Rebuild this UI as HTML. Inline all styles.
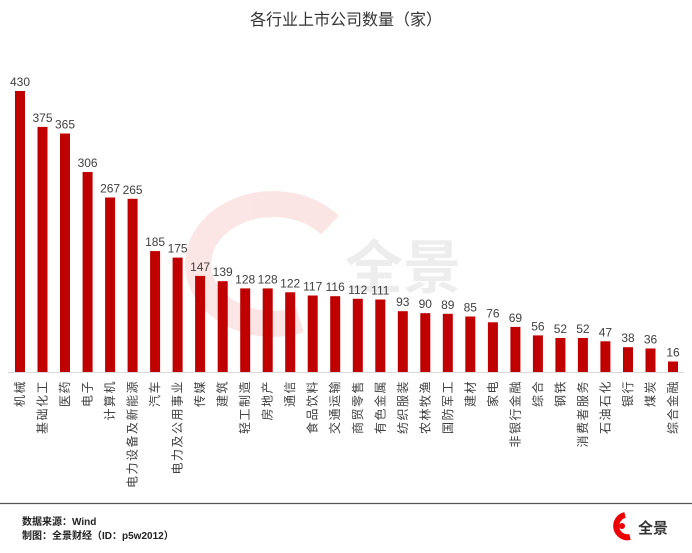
<!DOCTYPE html>
<html><head><meta charset="utf-8"><style>
body{margin:0;background:#fff;}
svg text{font-family:"Liberation Sans","Noto Sans CJK SC",sans-serif;}
.v{font-size:12px;fill:#404040;text-anchor:middle;}
.c text{font-size:12px;fill:#404040;text-anchor:end;letter-spacing:1.5px;}
.b{fill:#c00000;}
</style></head><body>
<svg width="692" height="548" viewBox="0 0 692 548" xmlns="http://www.w3.org/2000/svg">
<rect width="692" height="548" fill="#fff"/>
<text x="346" y="25" font-size="16" text-anchor="middle" fill="#333">各行业上市公司数量（家）</text>
<g opacity="0.1">
<path d="M330 225 A75 60 0 1 0 300 320" stroke="#d00" stroke-width="26" fill="none"/>
<text x="345" y="288" font-size="58" font-weight="bold" fill="#555">全景</text>
</g>
<line x1="8" y1="372.5" x2="684" y2="372.5" stroke="#d9d9d9" stroke-width="1"/>
<rect class="b" x="15" y="91" width="10" height="281"/><text class="v" x="20" y="86">430</text>
<rect class="b" x="37.5" y="126.9" width="10" height="245.1"/><text class="v" x="42.5" y="121.9">375</text>
<rect class="b" x="60" y="133.5" width="10" height="238.5"/><text class="v" x="65" y="128.5">365</text>
<rect class="b" x="82.6" y="172" width="10" height="200"/><text class="v" x="87.6" y="167">306</text>
<rect class="b" x="105.1" y="197.5" width="10" height="174.5"/><text class="v" x="110.1" y="192.5">267</text>
<rect class="b" x="127.6" y="198.8" width="10" height="173.2"/><text class="v" x="132.6" y="193.8">265</text>
<rect class="b" x="150.1" y="251.1" width="10" height="120.9"/><text class="v" x="155.1" y="246.1">185</text>
<rect class="b" x="172.6" y="257.6" width="10" height="114.4"/><text class="v" x="177.6" y="252.6">175</text>
<rect class="b" x="195.1" y="275.9" width="10" height="96.1"/><text class="v" x="200.1" y="270.9">147</text>
<rect class="b" x="217.7" y="281.2" width="10" height="90.8"/><text class="v" x="222.7" y="276.2">139</text>
<rect class="b" x="240.2" y="288.4" width="10" height="83.6"/><text class="v" x="245.2" y="283.4">128</text>
<rect class="b" x="262.7" y="288.4" width="10" height="83.6"/><text class="v" x="267.7" y="283.4">128</text>
<rect class="b" x="285.2" y="292.3" width="10" height="79.7"/><text class="v" x="290.2" y="287.3">122</text>
<rect class="b" x="307.7" y="295.5" width="10" height="76.5"/><text class="v" x="312.7" y="290.5">117</text>
<rect class="b" x="330.2" y="296.2" width="10" height="75.8"/><text class="v" x="335.2" y="291.2">116</text>
<rect class="b" x="352.8" y="298.8" width="10" height="73.2"/><text class="v" x="357.8" y="293.8">112</text>
<rect class="b" x="375.3" y="299.5" width="10" height="72.5"/><text class="v" x="380.3" y="294.5">111</text>
<rect class="b" x="397.8" y="311.2" width="10" height="60.8"/><text class="v" x="402.8" y="306.2">93</text>
<rect class="b" x="420.3" y="313.2" width="10" height="58.8"/><text class="v" x="425.3" y="308.2">90</text>
<rect class="b" x="442.8" y="313.8" width="10" height="58.2"/><text class="v" x="447.8" y="308.8">89</text>
<rect class="b" x="465.3" y="316.5" width="10" height="55.5"/><text class="v" x="470.3" y="311.5">85</text>
<rect class="b" x="487.9" y="322.3" width="10" height="49.7"/><text class="v" x="492.9" y="317.3">76</text>
<rect class="b" x="510.4" y="326.9" width="10" height="45.1"/><text class="v" x="515.4" y="321.9">69</text>
<rect class="b" x="532.9" y="335.4" width="10" height="36.6"/><text class="v" x="537.9" y="330.4">56</text>
<rect class="b" x="555.4" y="338" width="10" height="34"/><text class="v" x="560.4" y="333">52</text>
<rect class="b" x="577.9" y="338" width="10" height="34"/><text class="v" x="582.9" y="333">52</text>
<rect class="b" x="600.4" y="341.3" width="10" height="30.7"/><text class="v" x="605.4" y="336.3">47</text>
<rect class="b" x="623" y="347.2" width="10" height="24.8"/><text class="v" x="628" y="342.2">38</text>
<rect class="b" x="645.5" y="348.5" width="10" height="23.5"/><text class="v" x="650.5" y="343.5">36</text>
<rect class="b" x="668" y="361.5" width="10" height="10.5"/><text class="v" x="673" y="356.5">16</text>
<g class="c">
<text transform="translate(24,380) rotate(-90)">机械</text>
<text transform="translate(46.5,380) rotate(-90)">基础化工</text>
<text transform="translate(69,380) rotate(-90)">医药</text>
<text transform="translate(91.6,380) rotate(-90)">电子</text>
<text transform="translate(114.1,380) rotate(-90)">计算机</text>
<text transform="translate(136.6,380) rotate(-90)">电力设备及新能源</text>
<text transform="translate(159.1,380) rotate(-90)">汽车</text>
<text transform="translate(181.6,380) rotate(-90)">电力及公用事业</text>
<text transform="translate(204.1,380) rotate(-90)">传媒</text>
<text transform="translate(226.7,380) rotate(-90)">建筑</text>
<text transform="translate(249.2,380) rotate(-90)">轻工制造</text>
<text transform="translate(271.7,380) rotate(-90)">房地产</text>
<text transform="translate(294.2,380) rotate(-90)">通信</text>
<text transform="translate(316.7,380) rotate(-90)">食品饮料</text>
<text transform="translate(339.2,380) rotate(-90)">交通运输</text>
<text transform="translate(361.8,380) rotate(-90)">商贸零售</text>
<text transform="translate(384.3,380) rotate(-90)">有色金属</text>
<text transform="translate(406.8,380) rotate(-90)">纺织服装</text>
<text transform="translate(429.3,380) rotate(-90)">农林牧渔</text>
<text transform="translate(451.8,380) rotate(-90)">国防军工</text>
<text transform="translate(474.3,380) rotate(-90)">建材</text>
<text transform="translate(496.9,380) rotate(-90)">家电</text>
<text transform="translate(519.4,380) rotate(-90)">非银行金融</text>
<text transform="translate(541.9,380) rotate(-90)">综合</text>
<text transform="translate(564.4,380) rotate(-90)">钢铁</text>
<text transform="translate(586.9,380) rotate(-90)">消费者服务</text>
<text transform="translate(609.4,380) rotate(-90)">石油石化</text>
<text transform="translate(632,380) rotate(-90)">银行</text>
<text transform="translate(654.5,380) rotate(-90)">煤炭</text>
<text transform="translate(677,380) rotate(-90)">综合金融</text>
</g>
<line x1="0" y1="503.5" x2="692" y2="503.5" stroke="#555" stroke-width="1.2"/>
<text x="22" y="525" font-size="10" font-weight="bold" fill="#222">数据来源：Wind</text>
<text x="22" y="539" font-size="10" font-weight="bold" fill="#222">制图：全景财经（ID：p5w2012）</text>
<path d="M625 515 A11 11 0 1 0 630 537" stroke="#e00" stroke-width="6" fill="none"/>
<circle cx="622" cy="526" r="3" fill="#e00"/>
<text x="638" y="533" font-size="15" font-weight="bold" fill="#333">全景</text>
</svg>
</body></html>
